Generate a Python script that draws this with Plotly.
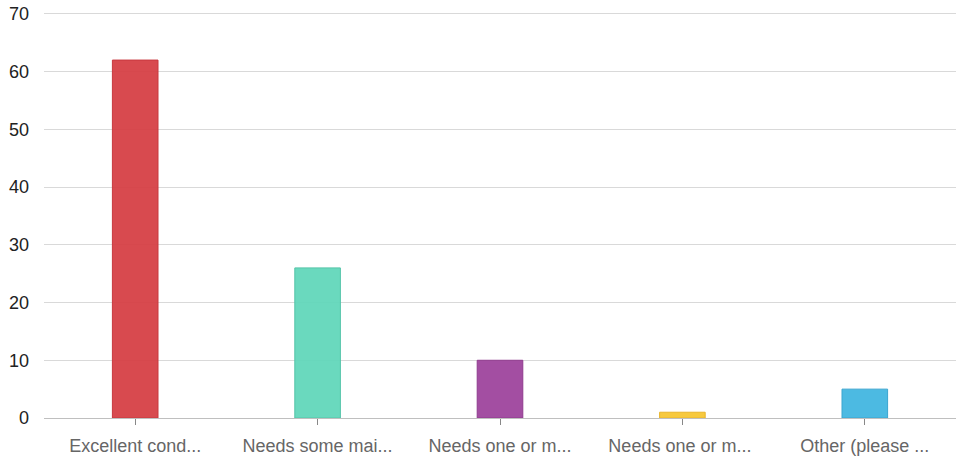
import plotly.graph_objects as go

categories = ["Excellent cond...", "Needs some mai...", "Needs one or m...", "Needs one or m... ", "Other (please ..."]
values = [62, 26, 10, 1, 5]
colors = ["rgba(214,64,70,0.95)", "rgba(98,215,187,0.95)", "rgba(158,68,157,0.95)", "rgba(247,198,52,0.95)", "rgba(66,182,224,0.95)"]
line_colors = ["#c8383e", "#55c4a9", "#8f3a8e", "#e8b52c", "#3aa5cf"]
y_ticks = [0, 10, 20, 30, 40, 50, 60, 70]

fig = go.Figure(go.Bar(
    x=categories, y=values,
    marker=dict(color=colors, line=dict(color=line_colors, width=1)),
    width=0.25,
))
fig.update_layout(
    width=956, height=460,
    margin=dict(l=44, r=0, t=11, b=42),
    paper_bgcolor="white", plot_bgcolor="white",
    font=dict(family="Liberation Sans, Arial", size=18),
    showlegend=False,
)
fig.update_yaxes(range=[0, 70.5], tickvals=y_ticks, showgrid=True, gridcolor="#d9d9d9", gridwidth=1,
                 zeroline=True, zerolinecolor="#bfbfbf", zerolinewidth=1, automargin=False,
                 ticklabeloverflow="allow",
                 tickfont=dict(size=18, color="#222222"), ticks="", ticklabelstandoff=14)
fig.update_xaxes(showgrid=False, ticks="outside", ticklen=6, tickcolor="#888888", tickwidth=1,
                 automargin=False, ticklabelstandoff=5,
                 tickfont=dict(size=18, color="#666666"), showline=True, linecolor="#bfbfbf")
fig.write_html("out.html", config={"displayModeBar": False},
               post_script="document.body.style.margin='0';document.body.style.overflow='hidden';")
